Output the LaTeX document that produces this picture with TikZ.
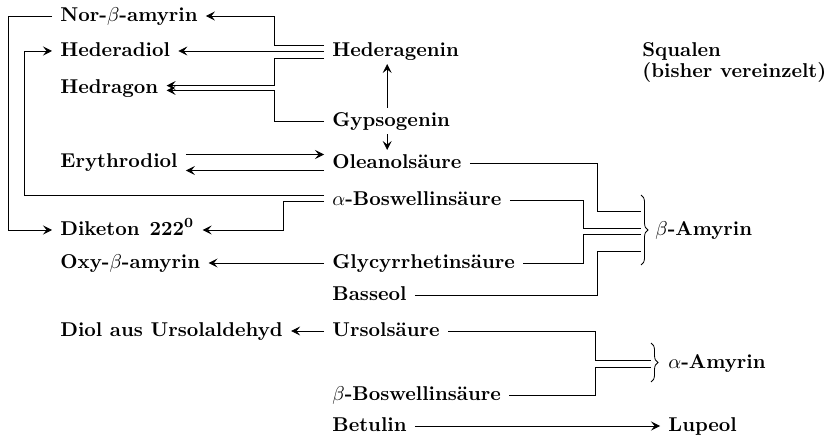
\documentclass[tikz,border=0pt]{standalone}
\usepackage{amsmath}
\usepackage{tikz}
\usetikzlibrary{arrows.meta, calc, decorations.pathreplacing}

\begin{document}
\begin{tikzpicture}[x=0.5pt, y=-0.5pt, line width=0.4pt,
	stoff/.style={font=\bfseries, anchor=west, inner xsep=4pt, inner ysep=2pt, text height=1.6ex, text depth=0.4ex},
	pfeil/.style={-{Stealth[length=4.5pt, width=4.5pt, inset=1.8pt]}},
	klammer/.style={decorate, decoration={brace, amplitude=3.5pt}}]
	\useasboundingbox (0,0) rectangle (829,443);
	% linke Spalte
	\node[stoff] (nor) at (52,16) {Nor-$\beta$-amyrin};
	\node[stoff] (hdiol) at (52,51) {Hederadiol};
	\node[stoff] (hdrg) at (52,88) {Hedragon};
	\node[stoff] (ery) at (52,162) {Erythrodiol};
	\node[stoff] (dik) at (52,230) {Diketon\enspace 222\textsuperscript{0}};
	\node[stoff] (oxy) at (52,263) {Oxy-$\beta$-amyrin};
	\node[stoff] (diol) at (52,331) {Diol aus Ursolaldehyd};
	% mittlere Spalte
	\node[stoff] (hga) at (324,51) {Hederagenin};
	\node[stoff] (gyp) at (324,121) {Gypsogenin};
	\node[stoff] (ole) at (324,163) {Oleanolsäure};
	\node[stoff] (abos) at (324,200) {$\alpha$-Boswellinsäure};
	\node[stoff] (gly) at (324,263) {Glycyrrhetinsäure};
	\node[stoff] (bas) at (324,295) {Basseol};
	\node[stoff] (urs) at (324,331) {Ursolsäure};
	\node[stoff] (bbos) at (324,395) {$\beta$-Boswellinsäure};
	\node[stoff] (bet) at (324,426) {Betulin};
	% rechte Spalte
	\node[font=\bfseries\fontsize{10}{10.5}\selectfont, align=left, anchor=west, inner sep=0pt] (squ) at (642,63) {Squalen\\(bisher vereinzelt)};
	\node[stoff] (bamy) at (647,230) {$\beta$-Amyrin};
	\node[stoff] (aamy) at (660,363) {$\alpha$-Amyrin};
	\node[stoff] (lup) at (660,426) {Lupeol};

	\coordinate (xl1) at (8,0);
	\coordinate (xl2) at (24,0);
	\coordinate (xm) at (274,0);
	\coordinate (xd) at (283,0);
	\coordinate (xi) at (583,0);
	\coordinate (xu) at (595,0);
	\coordinate (xo) at (597,0);
	\coordinate (b1) at (641,211);
	\coordinate (b2) at (641,228);
	\coordinate (b3) at (641,234);
	\coordinate (b4) at (641,251);
	\coordinate (bk1) at (641,195);
	\coordinate (bk2) at (641,265);
	\coordinate (a1) at (651,360);
	\coordinate (a2) at (651,367);
	\coordinate (ak1) at (651,343);
	\coordinate (ak2) at (651,382);
	\coordinate (hgaA) at ([yshift=3pt]hga.west);
	\coordinate (hgaC) at ([yshift=-3.5pt]hga.west);
	\coordinate (hdrgA) at ([yshift=1.2pt]hdrg.east);
	\coordinate (hdrgB) at ([yshift=-1.2pt]hdrg.east);
	\coordinate (eryA) at ([yshift=3.75pt]ery.east);
	\coordinate (oleB) at ([yshift=-3.75pt]ole.west);
	\coordinate (abosA) at ([yshift=2.2pt]abos.west);
	\coordinate (abosB) at ([yshift=-0.8pt]abos.west);

	% Hederagenin und Gypsogenin
	\draw[pfeil] (hgaA) -| (xm |- nor.east) -- (nor.east);
	\draw[pfeil] (hga.west |- hdiol.east) -- (hdiol.east);
	\draw[pfeil] (hgaC) -| (xm |- hdrgA) -- (hdrgA);
	\draw[pfeil] (gyp.west) -| (xm |- hdrgB) -- (hdrgB);
	\draw[pfeil] ([xshift=-2pt]gyp.north) -- ([xshift=-2pt]gyp.north |- hga.south);
	\draw[pfeil] ([xshift=-2pt]gyp.south) -- ([xshift=-2pt]gyp.south |- ole.north);
	\draw[pfeil] (eryA) -- (eryA -| ole.west);
	\draw[pfeil] (oleB) -- (oleB -| ery.east);
	% lange Wege links
	\draw[pfeil] (nor.west) -| (xl1 |- dik.west) -- (dik.west);
	\draw[pfeil] (abosA) -| (xl2 |- hdiol.west) -- (hdiol.west);
	\draw[pfeil] (abosB) -| (xd |- dik.east) -- (dik.east);
	\draw[pfeil] (gly.west) -- (oxy.east);
	\draw[pfeil] (urs.west) -- (diol.east);
	\draw[pfeil] (bet.east) -- (lup.west);
	% Klammern rechts
	\draw (ole.east) -| (xo |- b1) -- (b1);
	\draw (abos.east) -| (xi |- b2) -- (b2);
	\draw (gly.east) -| (xi |- b3) -- (b3);
	\draw (bas.east) -| (xo |- b4) -- (b4);
	\draw[klammer] (bk1) -- (bk2);
	\draw (urs.east) -| (xu |- a1) -- (a1);
	\draw (bbos.east) -| (xu |- a2) -- (a2);
	\draw[klammer] (ak1) -- (ak2);
\end{tikzpicture}
\end{document}
